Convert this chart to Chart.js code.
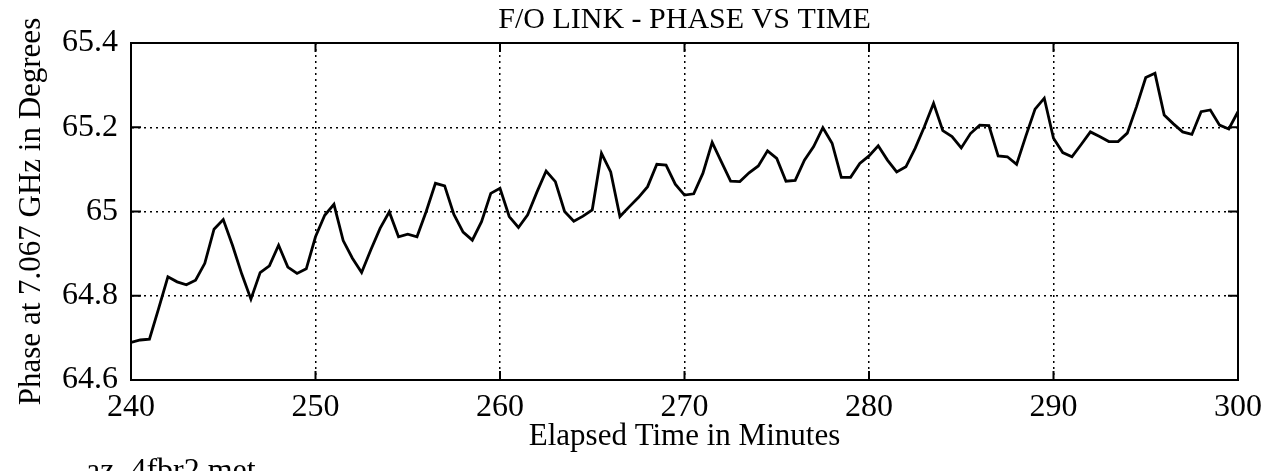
<!DOCTYPE html>
<html>
<head>
<meta charset="utf-8">
<script src="https://cdn.jsdelivr.net/npm/chart.js@4/dist/chart.umd.min.js"></script>
<style>
  body { margin: 0; background: #fff; }
  #wrap { width: 1270px; height: 471px; position: relative; }
</style>
</head>
<body>
<div id="wrap"><canvas id="phaseChart"></canvas></div>
<script>
// elapsed time (minutes), one sample every half minute
var minutes = [
  240, 240.5, 241, 241.5, 242, 242.5, 243, 243.5, 244, 244.5,
  245, 245.5, 246, 246.5, 247, 247.5, 248, 248.5, 249, 249.5,
  250, 250.5, 251, 251.5, 252, 252.5, 253, 253.5, 254, 254.5,
  255, 255.5, 256, 256.5, 257, 257.5, 258, 258.5, 259, 259.5,
  260, 260.5, 261, 261.5, 262, 262.5, 263, 263.5, 264, 264.5,
  265, 265.5, 266, 266.5, 267, 267.5, 268, 268.5, 269, 269.5,
  270, 270.5, 271, 271.5, 272, 272.5, 273, 273.5, 274, 274.5,
  275, 275.5, 276, 276.5, 277, 277.5, 278, 278.5, 279, 279.5,
  280, 280.5, 281, 281.5, 282, 282.5, 283, 283.5, 284, 284.5,
  285, 285.5, 286, 286.5, 287, 287.5, 288, 288.5, 289, 289.5,
  290, 290.5, 291, 291.5, 292, 292.5, 293, 293.5, 294, 294.5,
  295, 295.5, 296, 296.5, 297, 297.5, 298, 298.5, 299, 299.5,
  300
];

// phase at 7.067 GHz (degrees)
var phase = [
  64.689, 64.695, 64.697, 64.770, 64.845, 64.833, 64.826, 64.837, 64.877, 64.958,
  64.981, 64.920, 64.852, 64.792, 64.855, 64.871, 64.920, 64.868, 64.853, 64.864,
  64.940, 64.991, 65.017, 64.931, 64.889, 64.855, 64.909, 64.960, 64.999, 64.940,
  64.946, 64.940, 65.000, 65.067, 65.061, 64.993, 64.951, 64.932, 64.976, 65.043,
  65.055, 64.988, 64.962, 64.992, 65.046, 65.096, 65.071, 65.000, 64.977, 64.989,
  65.004, 65.138, 65.094, 64.988, 65.011, 65.033, 65.059, 65.112, 65.110, 65.065,
  65.039, 65.042, 65.091, 65.164, 65.118, 65.072, 65.071, 65.092, 65.108, 65.144,
  65.126, 65.072, 65.074, 65.122, 65.154, 65.199, 65.162, 65.081, 65.081, 65.114,
  65.132, 65.156, 65.122, 65.094, 65.106, 65.150, 65.201, 65.257, 65.192, 65.178,
  65.151, 65.185, 65.205, 65.204, 65.132, 65.130, 65.112, 65.179, 65.243, 65.269,
  65.174, 65.140, 65.130, 65.159, 65.189, 65.178, 65.166, 65.166, 65.186, 65.249,
  65.318, 65.328, 65.229, 65.208, 65.189, 65.183, 65.237, 65.241, 65.205, 65.196,
  65.237
];

var xTicks = [240, 250, 260, 270, 280, 290, 300];
var yTicks = [64.6, 64.8, 65, 65.2, 65.4];

var serif = '"Liberation Serif", "DejaVu Serif", serif';

// box round the plot, inward tick marks, file name at the bottom
var framePlugin = {
  id: 'frame',
  afterDraw: function (chart) {
    var ctx = chart.ctx, a = chart.chartArea;
    var xs = chart.scales.x, ys = chart.scales.y;
    ctx.save();
    ctx.strokeStyle = '#000';
    ctx.lineWidth = 2;
    ctx.strokeRect(a.left, a.top, a.right - a.left, a.bottom - a.top);
    ctx.beginPath();
    xTicks.forEach(function (t) {
      var px = xs.getPixelForValue(t);
      ctx.moveTo(px, a.bottom); ctx.lineTo(px, a.bottom - 9);
      ctx.moveTo(px, a.top); ctx.lineTo(px, a.top + 9);
    });
    yTicks.forEach(function (t) {
      var py = ys.getPixelForValue(t);
      ctx.moveTo(a.left, py); ctx.lineTo(a.left + 10, py);
      ctx.moveTo(a.right, py); ctx.lineTo(a.right - 10, py);
    });
    ctx.stroke();
    ctx.fillStyle = '#000';
    ctx.font = '32px ' + serif;
    ctx.textBaseline = 'top';
    ctx.textAlign = 'left';
    ctx.fillText('az_4fbr2.met', 86, 456);
    ctx.restore();
  }
};

var ctx = document.getElementById('phaseChart').getContext('2d');
var chart = new Chart(ctx, {
  type: 'line',
  data: {
    labels: minutes,
    datasets: [{
      label: 'Phase',
      data: minutes.map(function (m, i) { return {x: m, y: phase[i]}; }),
      borderColor: '#000',
      borderWidth: 2.8,
      pointRadius: 0,
      tension: 0,
      fill: false
    }]
  },
  options: {
    responsive: true,
    maintainAspectRatio: false,
    animation: false,
    layout: { padding: { top: 0, right: 31, bottom: 0, left: 0 } },
    plugins: {
      legend: { display: false },
      tooltip: { enabled: false },
      title: {
        display: true,
        fullSize: false,
        text: 'F/O LINK - PHASE VS TIME',
        color: '#000',
        font: { family: serif, size: 30, weight: 'normal', lineHeight: 1.2 },
        padding: { top: 2, bottom: 5 }
      }
    },
    scales: {
      x: {
        type: 'linear',
        min: 240,
        max: 300,
        afterFit: function (s) { s.height = 91; },
        afterBuildTicks: function (s) { s.ticks = xTicks.map(function (v) { return {value: v}; }); },
        ticks: {
          color: '#000',
          font: { family: serif, size: 32 },
          padding: 8,
          maxRotation: 0,
          callback: function (v) { return String(v); }
        },
        grid: { color: '#000', lineWidth: 1.5, drawTicks: false },
        border: { display: true, color: '#000', width: 2, dash: [2, 4] },
        title: {
          display: true,
          text: 'Elapsed Time in Minutes',
          color: '#000',
          font: { family: serif, size: 31, lineHeight: 1.2 },
          padding: { top: 0, bottom: 16 }
        }
      },
      y: {
        min: 64.6,
        max: 65.4,
        afterFit: function (s) { s.width = 131; },
        afterBuildTicks: function (s) { s.ticks = yTicks.map(function (v) { return {value: v}; }); },
        ticks: {
          color: '#000',
          font: { family: serif, size: 32 },
          padding: 13,
          callback: function (v) { return String(+v.toFixed(1)); }
        },
        grid: { color: '#000', lineWidth: 1.5, drawTicks: false },
        border: { display: true, color: '#000', width: 2, dash: [2, 4] },
        title: {
          display: true,
          text: 'Phase at 7.067 GHz in Degrees',
          color: '#000',
          font: { family: serif, size: 31, lineHeight: 1.2 },
          padding: { top: 13, bottom: 0 }
        }
      }
    }
  },
  plugins: [framePlugin]
});
</script>
</body>
</html>
